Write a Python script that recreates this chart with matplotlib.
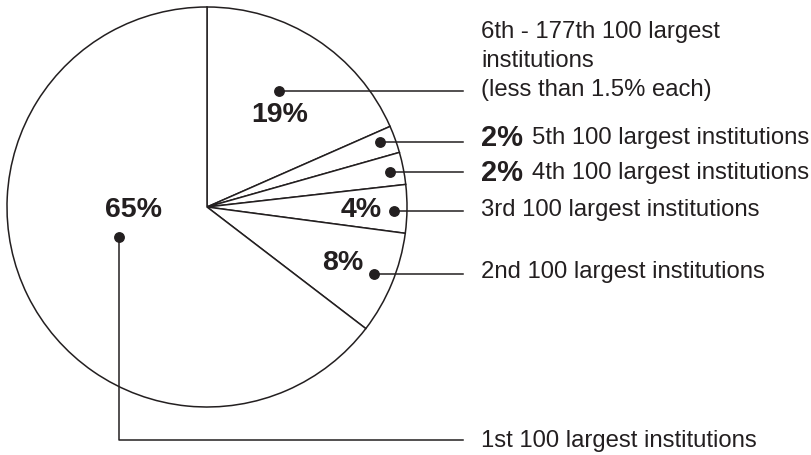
import numpy as np
import matplotlib
matplotlib.use('Agg')
import matplotlib.pyplot as plt

# slice sizes as drawn, clockwise from 12 o'clock
shares = [18.4, 2.2, 2.6, 3.9, 8.3, 64.6]
pct_labels = ['19%', '2%', '2%', '4%', '8%', '65%']
desc_labels = [
    '6th - 177th 100 largest\ninstitutions\n(less than 1.5% each)',
    '5th 100 largest institutions',
    '4th 100 largest institutions',
    '3rd 100 largest institutions',
    '2nd 100 largest institutions',
    '1st 100 largest institutions',
]

INK = '#231f20'
plt.rcParams['font.family'] = ['Liberation Sans', 'DejaVu Sans']

W, H = 812, 456
CX, CY, R = 207, 208, 200


def px(x, y):
    # image pixel (y down) -> data coords, pie radius = 1
    return ((x - CX) / R, (CY - y) / R)


fig = plt.figure(figsize=(W / 100, H / 100), dpi=100)
ax = fig.add_axes([0, 0, 1, 1])

wedges, _ = ax.pie(shares, startangle=90, counterclock=False, radius=1,
                   colors=['white'] * len(shares),
                   wedgeprops=dict(edgecolor=INK, linewidth=1.1))

ax.set_aspect('auto')
ax.set_xlim(px(0, 0)[0], px(W, 0)[0])
ax.set_ylim(px(0, H)[1], px(0, 0)[1])
ax.axis('off')

# where the dot sits in each wedge (fraction of radius, angle shift)
dot_r = [0.68, 0.925, 0.93, 0.935, 0.9, 0.465]
dot_shift = [1.3, 0.7, -0.2, -0.6, 0.8, -7.6]
line_end = px(463, 0)[0]
text_x = px(481, 0)[0]
text_y = [88, 138, 173, 210, 272, 441]
FS = 17.2

dots = []
for w, r, s in zip(wedges, dot_r, dot_shift):
    ang = np.deg2rad((w.theta1 + w.theta2) / 2 + s)
    dots.append((r * np.cos(ang), r * np.sin(ang)))

for i, (dx, dy) in enumerate(dots):
    ax.plot(dx, dy, 'o', color=INK, ms=6.8, zorder=5)
    ty = px(0, text_y[i])[1]
    if i == 5:
        ax.plot([dx, dx, line_end], [dy, ty, ty], color=INK, lw=1.1)
    else:
        ax.plot([dx, line_end], [dy, dy], color=INK, lw=1.1)

# descriptions on the right
ax.text(text_x, px(0, 61)[1], desc_labels[0], fontsize=FS, color=INK,
        ha='left', va='center', linespacing=1.42)
for i in (1, 2):
    y = px(0, text_y[i])[1]
    ax.text(text_x, y, pct_labels[i], fontsize=21, fontweight='bold',
            color=INK, ha='left', va='center')
    ax.text(px(532, 0)[0], y, desc_labels[i], fontsize=FS, color=INK,
            ha='left', va='center')
for i in (3, 4, 5):
    ax.text(text_x, px(0, text_y[i])[1], desc_labels[i], fontsize=FS,
            color=INK, ha='left', va='center')

# percentages inside the pie
inside = {0: (280, 115, 'center'), 3: (382, 210, 'right'),
          4: (363, 263, 'right'), 5: (134, 210, 'center')}
for i, (x, y, ha) in inside.items():
    ax.text(*px(x, y), pct_labels[i], fontsize=20.5, fontweight='bold',
            color=INK, ha=ha, va='center')

fig.savefig('out.png', dpi=100, facecolor='white')
